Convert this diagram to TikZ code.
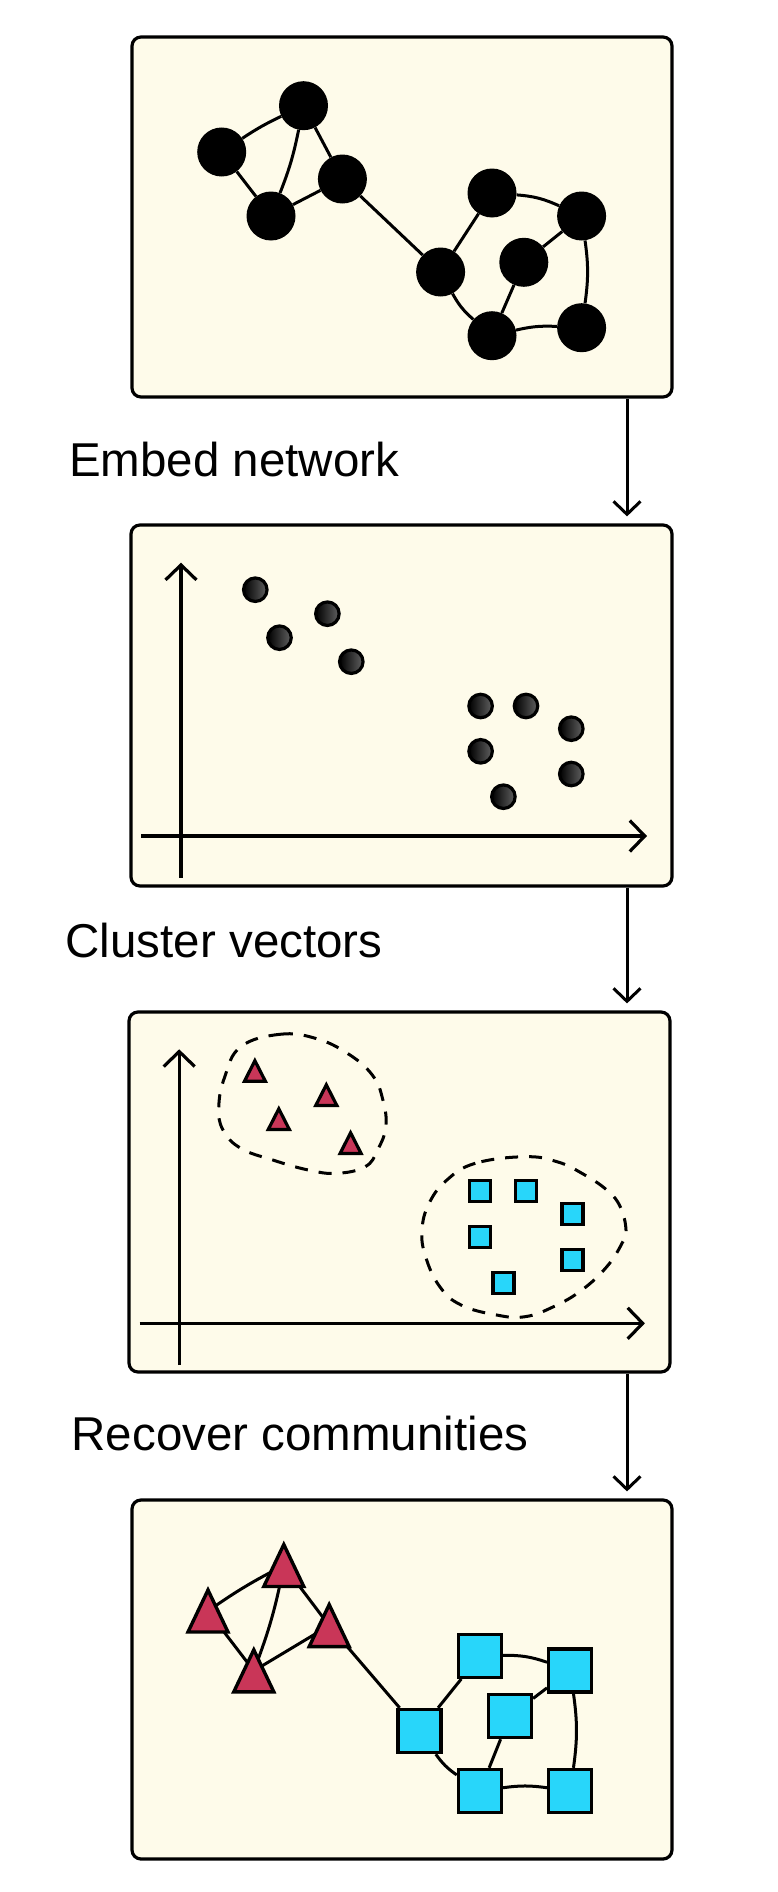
\documentclass[tikz,border=0pt]{standalone}
\usepackage{fontspec}
\setmainfont{Liberation Sans}
\usetikzlibrary{arrows.meta,calc}
\definecolor{panelfill}{RGB}{254,251,234}
\definecolor{trired}{RGB}{201,54,88}
\definecolor{sqblue}{RGB}{40,214,250}
\begin{document}
\begin{tikzpicture}[x=1pt,y=-1pt,
  panel/.style={draw=black, line width=3.2pt, fill=panelfill, rounded corners=9pt, minimum width=540pt, minimum height=360pt, inner sep=0pt},
  flowarrow/.style={line width=3pt, -{Straight Barb[length=13pt,width=27pt]}},
  axisline/.style={line width=3.2pt, -{Straight Barb[length=15pt,width=31pt]}},
  steplabel/.style={anchor=base west, inner sep=0pt, font=\fontsize{47.5}{56}\selectfont},
  netnode/.style={circle, fill=black, minimum size=49pt, inner sep=0pt},
  netedge/.style={line width=3pt},
  scatterdot/.style={circle, draw=black, line width=3.2pt, minimum size=23.5pt, inner sep=0pt, left color=black, right color=black!62},
  smallsq/.style={rectangle, draw=black, line width=3.2pt, fill=sqblue, minimum size=21pt, inner sep=0pt},
  bigsq/.style={rectangle, draw=black, line width=3.4pt, fill=sqblue, minimum size=43pt, inner sep=0pt},
  blob/.style={dashed, line width=3pt, dash pattern=on 13pt off 11pt},
  smalltri/.pic={\draw[line width=3.2pt, fill=trired, line join=miter] (-10.5,10.3) -- (10.5,10.3) -- (0,-10.3) -- cycle;},
  bigtri/.pic={\draw[line width=3.4pt, fill=trired, line join=miter] (-20,21) -- (20,21) -- (0,-21) -- cycle;}
]
\useasboundingbox[fill=white] (0,0) rectangle (778,1892);

% panels
\node[panel, minimum width=540pt, minimum height=360pt] (box1) at (402,217) {};
\node[panel, minimum width=541pt, minimum height=361pt] (box2) at (401.5,705.5) {};
\node[panel, minimum width=541pt, minimum height=360pt] (box3) at (399.5,1192) {};
\node[panel, minimum width=540pt, minimum height=359pt] (box4) at (402,1679.5) {};

% flow arrows
\coordinate (ax) at (627,0);
\draw[flowarrow] (box1.south -| ax) -- ($(box2.north -| ax)+(0,-7)$);
\draw[flowarrow] (box2.south -| ax) -- ($(box3.north -| ax)+(0,-7)$);
\draw[flowarrow] (box3.south -| ax) -- ($(box4.north -| ax)+(0,-7)$);

% labels
\node[steplabel] (lab1) at (69,476.7) {Embed network};
\node[steplabel] (lab2) at (65.5,957) {Cluster vectors};
\node[steplabel] (lab3) at (71.5,1450.5) {Recover communities};

% ---------- panel 1: network ----------
\node[netnode] (a) at (221.7,152) {};
\node[netnode] (b) at (303.5,105.7) {};
\node[netnode] (c) at (342.4,179) {};
\node[netnode] (d) at (271,216) {};
\node[netnode] (e) at (440.6,272) {};
\node[netnode] (f) at (492,193) {};
\node[netnode] (g) at (581.6,216) {};
\node[netnode] (h) at (523.8,262.3) {};
\node[netnode] (i) at (492,335.7) {};
\node[netnode] (j) at (581.6,327.7) {};
\draw[netedge] (a) to[bend left=4] (b);
\draw[netedge] (a) -- (d);
\draw[netedge] (b) to[bend left=5] (d);
\draw[netedge] (b) -- (c);
\draw[netedge] (d) -- (c);
\draw[netedge] (c) -- (e);
\draw[netedge] (e) -- (f);
\draw[netedge] (f) to[bend left=10] (g);
\draw[netedge] (g) -- (h);
\draw[netedge] (h) -- (i);
\draw[netedge] (g) to[bend left=8] (j);
\draw[netedge] (i) to[bend left=8] (j);
\draw[netedge] (e) to[bend right=10] (i);

% ---------- panel 2: embedding ----------
\coordinate (y2a) at (181,877.7);
\coordinate (y2b) at (181,562.7);
\coordinate (x2a) at (141.3,836);
\coordinate (x2b) at (647,836);
\draw[axisline] (y2a) -- (y2b);
\draw[axisline] (x2a) -- (x2b);
\node[scatterdot] (p1) at (255.3,589.7) {};
\node[scatterdot] (p2) at (279.5,637.7) {};
\node[scatterdot] (p3) at (327.4,613.7) {};
\node[scatterdot] (p4) at (351.3,661.7) {};
\node[scatterdot] (p5) at (480.6,706) {};
\node[scatterdot] (p6) at (526,706) {};
\node[scatterdot] (p7) at (571.3,728.7) {};
\node[scatterdot] (p8) at (480.6,751.3) {};
\node[scatterdot] (p9) at (571.3,774) {};
\node[scatterdot] (p10) at (503.4,796.7) {};

% ---------- panel 3: clusters ----------
\coordinate (y3a) at (179.2,1365);
\coordinate (y3b) at (179.2,1049.3);
\coordinate (x3a) at (139.6,1323.3);
\coordinate (x3b) at (644.9,1323.3);
\draw[axisline] (y3a) -- (y3b);
\draw[axisline] (x3a) -- (x3b);
\draw[blob] plot[smooth cycle, tension=0.7] coordinates {
 (240.8,1046.7) (279.9,1034.3) (315.4,1038.3) (347.4,1053.3) (372.3,1075)
 (382.9,1100) (385.8,1126.7) (377.6,1150) (365.2,1166.7) (336.7,1173.3)
 (308.3,1170) (272.8,1160) (240.8,1148.3) (223,1130) (218.8,1106.7) (224.8,1076.7)};
\draw[blob] plot[smooth cycle, tension=0.7] coordinates {
 (525,1156.7) (475.3,1163.3) (446.9,1180) (429.1,1203.3) (422,1230)
 (425.6,1256.7) (439.8,1286.7) (461.1,1305) (496.6,1315) (525,1316.7)
 (553.5,1306.7) (581.9,1290) (606.8,1266.7) (622,1243.3) (626,1230)
 (620.2,1206.7) (606.8,1190) (581.9,1173.3) (557,1161.7)};
\pic (s1) at (254.9,1071) {smalltri};
\pic (s2) at (326.3,1095.1) {smalltri};
\pic (s3) at (278.8,1119.1) {smalltri};
\pic (s4) at (350.6,1143.1) {smalltri};
\node[smallsq] (q1) at (480.2,1191.3) {};
\node[smallsq] (q2) at (526.3,1191.3) {};
\node[smallsq] (q3) at (572.4,1214.3) {};
\node[smallsq] (q4) at (480.2,1237.3) {};
\node[smallsq] (q5) at (572.4,1260.3) {};
\node[smallsq] (q6) at (503.4,1283.3) {};

% ---------- panel 4: communities ----------
\coordinate (t1) at (208,1611);
\coordinate (t2) at (283.8,1565.5);
\coordinate (t3) at (329.2,1625.6);
\coordinate (t4) at (253.8,1670.8);
\node[bigsq] (se) at (419.5,1731) {};
\node[bigsq] (sf) at (479.9,1655.7) {};
\node[bigsq] (sg) at (570.2,1670.3) {};
\node[bigsq] (sh) at (509.9,1716) {};
\node[bigsq] (si) at (479.9,1791) {};
\node[bigsq] (sj) at (570.2,1791) {};
\draw[netedge] (t1) to[bend left=4] (t2);
\draw[netedge] (t1) -- (t4);
\draw[netedge] (t2) to[bend left=5] (t4);
\draw[netedge] (t2) -- (t3);
\draw[netedge] (t4) -- (t3);
\draw[netedge] (t3) -- (se);
\draw[netedge] (se) -- (sf);
\draw[netedge] (sf) to[bend left=10] (sg);
\draw[netedge] (sg) -- (sh);
\draw[netedge] (sh) -- (si);
\draw[netedge] (sg) to[bend left=8] (sj);
\draw[netedge] (si) to[bend left=8] (sj);
\draw[netedge] (se) to[bend right=10] (si);
\pic (b1) at (t1) {bigtri};
\pic (b2) at (t2) {bigtri};
\pic (b3) at (t3) {bigtri};
\pic (b4) at (t4) {bigtri};
\end{tikzpicture}
\end{document}
